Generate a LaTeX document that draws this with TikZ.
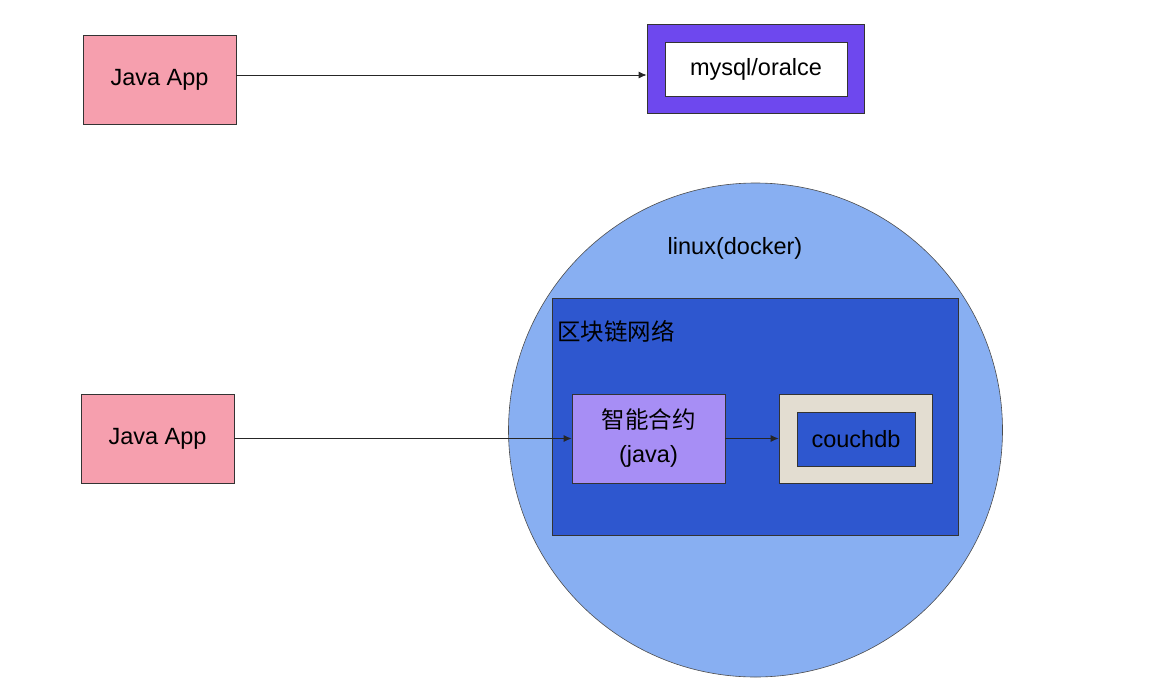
\documentclass[tikz,border=0pt]{standalone}
\usepackage{fontspec}
\setmainfont{Liberation Sans}
\newfontfamily\cjk{Noto Sans CJK SC}
\usepackage{xcolor}
\usepackage{tikz}
\usetikzlibrary{arrows.meta,shapes,positioning}
\definecolor{apppink}{HTML}{F69FAE}
\definecolor{dbpurple}{HTML}{6E48EE}
\definecolor{linuxblue}{HTML}{88AFF2}
\definecolor{chainblue}{HTML}{2E57CF}
\definecolor{contractpurple}{HTML}{A78EF5}
\definecolor{couchbeige}{HTML}{E3DDD1}
\definecolor{edgegray}{HTML}{333333}

\begin{document}
\begin{tikzpicture}[x=1pt,y=-1pt,
    every node/.style={font=\fontsize{23.5}{34}\selectfont,inner sep=0pt},
    box/.style={draw=edgegray,line width=0.8pt,rectangle},
    flow/.style={-{Latex[length=8pt,width=7pt]},line width=0.8pt,black!85}]
    \useasboundingbox (0,0) rectangle (1160,694);
    \path
        (755.5,430)   node[draw=black!70,line width=0.6pt,circle,fill=linuxblue,minimum size=494pt] (linux){}
        (735,248)     node (linuxlabel){linux(docker)}
        (755,416.5)   node[box,fill=chainblue,minimum width=406pt,minimum height=237pt] (chain){}
        (557,331)     node[anchor=west] (chainlabel){\cjk 区块链网络}
        ;
    \path
        (159.5,79.5)  node[box,fill=apppink,minimum width=153pt,minimum height=89pt] (app1){Java App}
        (755.5,68.5)  node[box,fill=dbpurple,minimum width=217pt,minimum height=89pt] (db){}
        (756,69.5)    node[box,fill=white,minimum width=182pt,minimum height=54pt] (dbin){mysql/oralce}
        (157.5,438.5) node[box,fill=apppink,minimum width=153pt,minimum height=89pt] (app2){Java App}
        (648.5,438.5) node[box,fill=contractpurple,minimum width=153pt,minimum height=89pt,align=center] (contract){{\cjk 智能合约}\\(java)}
        (855.5,438.5) node[box,fill=couchbeige,minimum width=153pt,minimum height=89pt] (couch){}
        (856,439)     node[box,fill=chainblue,minimum width=118pt,minimum height=54pt] (couchin){couchdb}
        ;
    \draw [flow] ([yshift=4.5pt]app1.east) -- ([yshift=4.5pt]app1.east -| db.west);
    \draw [flow] (app2) -- (contract);
    \draw [flow] (contract) -- (couch);
\end{tikzpicture}
\end{document}
